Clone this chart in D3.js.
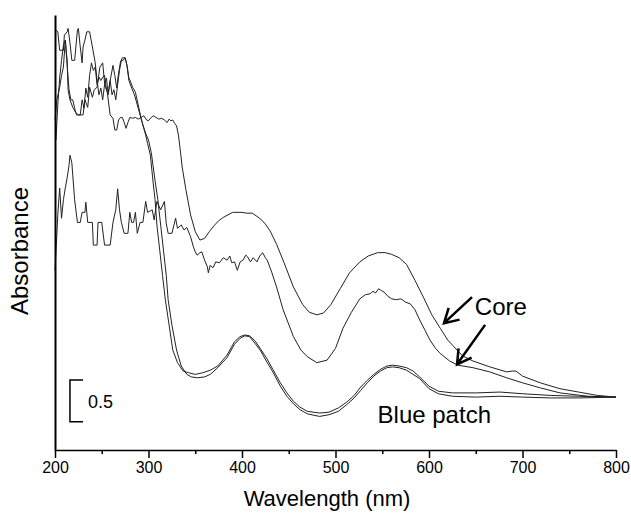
<!DOCTYPE html>
<html>
<head>
<meta charset="utf-8">
<script src="https://cdn.jsdelivr.net/npm/d3@7"></script>
<style>
  body { margin: 0; background: #fff; }
  text { font-family: Arial, "Liberation Sans", sans-serif; fill: #000; }
</style>
</head>
<body>
<div id="canvas"></div>
<script>
// spectra: [wavelength nm, absorbance]
var coreUpper = [[200,3.93],[202,4.17],[205,4.32],[207,4.46],[209,4.56],[211,4.88],[213,4.64],[214,4.29],[216,4.17],[219,4.08],[222,4.02],[225,3.99],[230,3.99],[232,4.17],[235,4.08],[237,4.32],[240,4.20],[242,4.29],[245,4.32],[248,4.56],[251,4.61],[253,4.37],[256,4.25],[259,3.99],[262,3.95],[264,3.81],[266,3.81],[268,3.93],[270,3.96],[272,3.96],[274,3.90],[276,3.83],[278,3.90],[280,3.96],[283,3.95],[286,3.96],[289,3.94],[292,3.96],[295,3.98],[298,3.93],[300,3.92],[302,3.95],[305,3.98],[308,3.96],[311,3.94],[314,3.95],[317,3.93],[320,3.90],[322,3.94],[324,3.92],[326,3.93],[328,3.89],[330,3.86],[332,3.75],[334,3.57],[336,3.37],[340,3.10],[345,2.80],[350,2.60],[355,2.50],[360,2.52],[365,2.60],[370,2.67],[375,2.73],[380,2.77],[390,2.83],[400,2.83],[405,2.82],[411,2.82],[415,2.79],[420,2.75],[425,2.69],[430,2.61],[437,2.45],[445,2.23],[455,1.94],[465,1.73],[472,1.64],[480,1.61],[487,1.63],[495,1.73],[505,1.92],[515,2.11],[526,2.24],[535,2.31],[545,2.35],[553,2.35],[560,2.33],[568,2.29],[576,2.21],[585,2.02],[594,1.82],[603,1.61],[612,1.45],[620,1.31],[630,1.19],[636,1.12],[647,1.06],[665,0.99],[683,0.93],[689,0.94],[693,0.94],[700,0.88],[719,0.80],[740,0.73],[760,0.69],[780,0.65],[800,0.63]];

var coreLower = [[200,2.14],[203,2.80],[205,3.12],[207,2.76],[209,2.98],[211,3.12],[213,3.24],[215,3.39],[216,3.51],[218,3.42],[221,2.98],[224,2.71],[227,2.71],[229,2.83],[232,2.83],[233,2.95],[235,2.71],[240,2.71],[241,2.44],[245,2.44],[246,2.71],[250,2.71],[253,2.44],[259,2.44],[262,2.71],[265,2.86],[267,3.11],[269,2.86],[271,2.71],[274,2.58],[278,2.58],[280,2.83],[282,2.71],[284,2.71],[286,2.83],[288,2.58],[291,2.71],[294,2.71],[297,2.96],[299,2.83],[304,2.86],[306,2.74],[309,2.96],[313,2.86],[317,2.96],[319,2.70],[321,2.58],[325,2.58],[329,2.76],[331,2.64],[335,2.68],[338,2.62],[341,2.65],[345,2.54],[348,2.42],[350,2.36],[352,2.32],[355,2.35],[357,2.36],[360,2.26],[363,2.18],[364,2.11],[366,2.20],[369,2.17],[372,2.24],[376,2.23],[380,2.29],[384,2.26],[387,2.31],[389,2.23],[392,2.24],[395,2.14],[398,2.24],[401,2.26],[404,2.32],[406,2.30],[409,2.24],[412,2.29],[416,2.24],[419,2.31],[422,2.35],[425,2.29],[427,2.26],[430,2.17],[432,2.11],[437,1.94],[444,1.67],[455,1.35],[463,1.19],[470,1.11],[480,1.04],[491,1.07],[500,1.21],[508,1.45],[517,1.64],[526,1.80],[532,1.85],[537,1.86],[540,1.89],[543,1.87],[546,1.92],[549,1.90],[552,1.88],[556,1.83],[560,1.80],[565,1.79],[570,1.80],[575,1.76],[580,1.74],[585,1.67],[590,1.55],[596,1.42],[601,1.31],[607,1.21],[612,1.15],[622,1.06],[631,1.01],[647,0.98],[665,0.93],[683,0.86],[700,0.80],[719,0.74],[740,0.68],[770,0.64],[800,0.63]];

var bluePatch1 = [[201,5.00],[203,4.98],[205,4.76],[209,4.76],[210,4.94],[213,4.98],[214,5.02],[216,4.85],[218,4.64],[221,4.64],[224,5.00],[225,5.02],[227,4.80],[229,4.61],[230,4.80],[232,4.88],[234,4.98],[237,4.98],[240,4.80],[243,4.61],[245,4.40],[247,4.23],[249,4.31],[251,4.17],[253,4.35],[255,4.43],[257,4.23],[259,4.40],[262,4.58],[264,4.46],[266,4.31],[268,4.49],[270,4.62],[272,4.67],[275,4.67],[277,4.58],[279,4.43],[281,4.38],[283,4.32],[286,4.26],[289,4.11],[292,3.95],[295,3.83],[297,3.75],[299,3.65],[302,3.51],[305,3.18],[307,2.98],[309,2.68],[312,2.38],[315,2.08],[318,1.79],[322,1.49],[326,1.19],[331,1.04],[337,0.94],[343,0.92],[350,0.90],[358,0.92],[366,0.95],[374,1.00],[384,1.13],[392,1.29],[398,1.35],[403,1.37],[408,1.36],[414,1.30],[420,1.20],[426,1.10],[433,0.96],[441,0.80],[448,0.68],[455,0.58],[462,0.51],[470,0.46],[483,0.44],[493,0.45],[503,0.50],[512,0.57],[520,0.65],[527,0.75],[534,0.83],[541,0.90],[548,0.96],[555,1.00],[561,1.01],[568,1.00],[576,0.98],[583,0.94],[590,0.87],[600,0.76],[610,0.70],[625,0.68],[650,0.68],[676,0.69],[700,0.67],[730,0.65],[760,0.64],[800,0.63]];

var bluePatch2 = [[201,3.69],[203,4.11],[205,4.43],[207,4.64],[209,4.82],[211,4.88],[213,4.58],[215,4.29],[217,4.17],[219,4.17],[221,4.07],[223,3.99],[227,3.99],[229,4.17],[231,4.07],[233,4.31],[235,4.20],[237,4.46],[239,4.61],[241,4.52],[243,4.56],[245,4.35],[247,4.44],[249,4.40],[251,4.44],[253,4.46],[255,4.29],[257,4.26],[259,4.40],[261,4.23],[263,4.29],[265,4.17],[267,4.35],[269,4.52],[271,4.64],[273,4.64],[275,4.67],[277,4.58],[279,4.40],[282,4.31],[285,4.23],[288,4.11],[291,3.99],[294,3.87],[297,3.77],[300,3.69],[303,3.54],[307,3.21],[310,2.98],[313,2.68],[316,2.38],[319,2.08],[321,1.79],[325,1.49],[330,1.19],[335,1.00],[341,0.90],[346,0.87],[352,0.86],[360,0.87],[366,0.90],[374,0.98],[384,1.10],[392,1.26],[398,1.33],[403,1.36],[408,1.35],[414,1.27],[420,1.18],[426,1.06],[433,0.93],[441,0.76],[448,0.64],[455,0.55],[462,0.48],[470,0.43],[483,0.40],[493,0.42],[503,0.46],[512,0.54],[520,0.62],[527,0.71],[534,0.80],[541,0.88],[548,0.94],[555,0.98],[561,0.99],[568,0.98],[576,0.95],[583,0.90],[590,0.85],[600,0.73],[610,0.67],[625,0.64],[650,0.63],[676,0.64],[700,0.63],[730,0.62],[760,0.62],[800,0.63]];

var series = [coreUpper, coreLower, bluePatch1, bluePatch2];

var xTicks = [200, 300, 400, 500, 600, 700, 800];
var xMinorTicks = [250, 350, 450, 550, 650, 750];

// annotation arrows: [tail nm, tail abs, tip nm, tip abs]
var arrows = [[646, 1.82, 616, 1.51], [660, 1.49, 630, 1.02]];
var scaleBar = 0.5;

var width = 631,
  height = 514;

var svg = d3.select("div#canvas").append("svg")
  .attr("width", width)
  .attr("height", height);

var x = d3.scaleLinear().domain([200, 800]).range([55, 616]);
var y = d3.scaleLinear().domain([0, 5.18]).range([450, 15]);

var line = d3.line()
  .x(function(d) { return x(d[0]); })
  .y(function(d) { return y(d[1]); });

svg.selectAll("path.spectrum")
  .data(series)
  .enter().append("path")
  .attr("class", "spectrum")
  .attr("d", line)
  .attr("fill", "none")
  .attr("stroke", "#222")
  .attr("stroke-width", 1);

// x axis, major + minor ticks
var xAxis = svg.append("g")
  .attr("transform", "translate(0,450)")
  .call(d3.axisBottom(x).tickValues(xTicks).tickSize(8).tickSizeOuter(0).tickPadding(4));
xAxis.select(".domain").attr("stroke-width", 1.5);
xAxis.selectAll(".tick line").attr("stroke-width", 1.5);
xAxis.selectAll(".tick text").attr("font-size", 16).attr("font-family", "Arial, 'Liberation Sans', sans-serif");

var xMinor = svg.append("g")
  .attr("transform", "translate(0,450)")
  .call(d3.axisBottom(x).tickValues(xMinorTicks).tickSize(4).tickFormat(""));
xMinor.select(".domain").remove();
xMinor.selectAll(".tick line").attr("stroke-width", 1.5);

// y axis has no ticks
var yAxis = svg.append("g")
  .attr("transform", "translate(55,0)")
  .call(d3.axisLeft(y).tickValues([]).tickSizeOuter(0));
yAxis.select(".domain").attr("stroke-width", 2);

svg.append("text")
  .attr("x", 327)
  .attr("y", 506)
  .attr("text-anchor", "middle")
  .attr("font-size", 22)
  .text("Wavelength (nm)");

svg.append("text")
  .attr("transform", "translate(28,251) rotate(-90)")
  .attr("text-anchor", "middle")
  .attr("font-size", 24)
  .text("Absorbance");

// scale bar
var sb0 = 0.335;
var sbx0 = x(216), sbx1 = x(230);
svg.append("path")
  .attr("d", "M" + sbx1 + "," + y(sb0 + scaleBar) + "H" + sbx0 + "V" + y(sb0) + "H" + sbx1)
  .attr("fill", "none")
  .attr("stroke", "#000")
  .attr("stroke-width", 1.5);
svg.append("text")
  .attr("x", sbx1 + 5)
  .attr("y", y(sb0 + scaleBar / 2) + 7)
  .attr("font-size", 18)
  .text(scaleBar);

// arrows pointing at the core spectra
arrows.forEach(function(a) {
  var x1 = x(a[0]), y1 = y(a[1]), x2 = x(a[2]), y2 = y(a[3]);
  var ang = Math.atan2(y1 - y2, x1 - x2);
  var len = 16, spread = Math.PI / 6;
  var p = "M" + x1 + "," + y1 + "L" + x2 + "," + y2 +
    "M" + (x2 + len * Math.cos(ang - spread)) + "," + (y2 + len * Math.sin(ang - spread)) +
    "L" + x2 + "," + y2 +
    "L" + (x2 + len * Math.cos(ang + spread)) + "," + (y2 + len * Math.sin(ang + spread));
  svg.append("path")
    .attr("d", p)
    .attr("fill", "none")
    .attr("stroke", "#000")
    .attr("stroke-width", 2.5);
});

svg.append("text")
  .attr("x", x(649))
  .attr("y", y(1.61))
  .attr("font-size", 24)
  .text("Core");

svg.append("text")
  .attr("x", x(545))
  .attr("y", y(0.32))
  .attr("font-size", 24)
  .text("Blue patch");
</script>
</body>
</html>
